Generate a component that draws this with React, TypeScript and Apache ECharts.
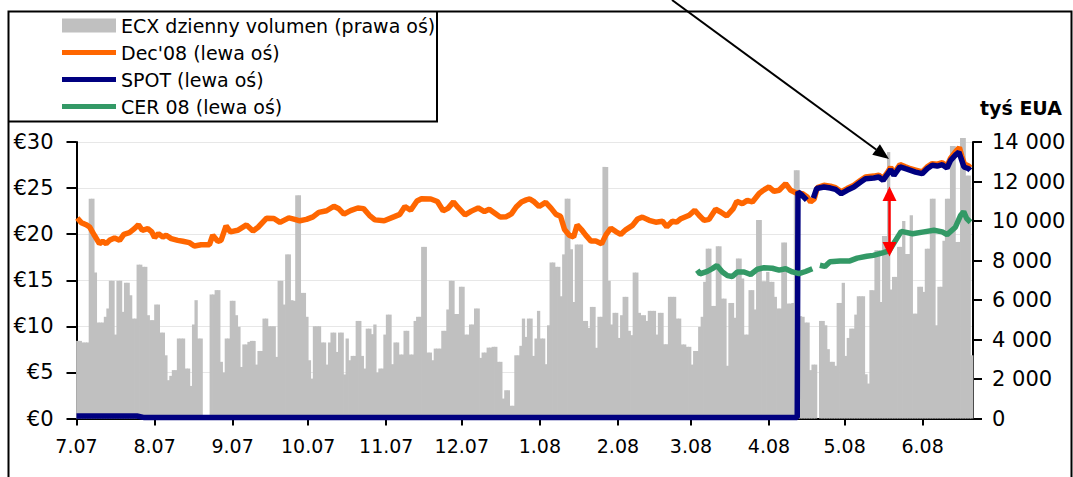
import React, { useEffect, useRef } from "react";
import * as echarts from "echarts";

const FONT = "'DejaVu Sans', Verdana, sans-serif";

// x = days since 1 July 2007
const monthTickDays = [0, 31, 62, 92, 123, 153, 184, 215, 244, 275, 305, 336];
const monthLabels = ["7.07", "8.07", "9.07", "10.07", "11.07", "12.07", "1.08", "2.08", "3.08", "4.08", "5.08", "6.08"];

// ECX daily volume (thousand EUA), one value per calendar day from day 0
const volumeTys = [
  3930, 3930, 3850, 3850, 3850, 11130, 11130, 7390, 4860, 4860, 4860, 5150, 5570, 6970, 6970, 4250, 6970, 6970, 5400, 6870,
  6870, 6240, 5060, 5060, 7790, 7790, 7680, 7680, 5230, 4980, 4980, 5770, 5770, 4350, 4350, 3200, 1940, 2160, 2450, 2450,
  4050, 4050, 4050, 2530, 2530, 1650, 4760, 5990, 4050, 4050, 0, 0, 0, 6280, 6280, 6500, 6500, 2870, 2330, 4050,
  4050, 5960, 5960, 5230, 4640, 2610, 3750, 3750, 3880, 3930, 3930, 2730, 3420, 3420, 5060, 5060, 4670, 4670, 4670, 3120,
  6970, 6970, 5770, 8310, 8310, 5990, 5960, 11300, 11300, 6360, 6360, 5150, 2950, 2020, 4670, 4670, 4670, 3850, 3850, 2730,
  3850, 4350, 4350, 3370, 4350, 4350, 2230, 4050, 2950, 3170, 3170, 4940, 4940, 3170, 2530, 4550, 4550, 4270, 4760, 2330,
  2530, 2530, 4250, 5260, 5260, 2750, 3850, 3850, 3240, 3240, 4440, 4440, 3240, 3240, 4940, 5150, 5150, 8690, 8690, 3340,
  3340, 2950, 3540, 3540, 3540, 4440, 4440, 5520, 6970, 6970, 5290, 5290, 6670, 6670, 4250, 4250, 4760, 4760, 5570, 5570,
  3070, 3340, 3340, 3590, 3590, 3630, 3630, 2870, 2870, 1010, 1430, 1430, 640, 640, 3200, 3200, 3680, 5060, 4130, 5060,
  5060, 3170, 4050, 5450, 4050, 4050, 2750, 4720, 7900, 7900, 7680, 7680, 6190, 8310, 11130, 11130, 8570, 5900, 8810, 8810,
  8810, 4940, 4940, 4590, 5650, 5650, 3580, 5150, 5150, 12740, 12740, 6970, 4760, 5350, 5350, 4080, 5230, 6160, 6160, 4440,
  4220, 7390, 7390, 5350, 5230, 5230, 4940, 5450, 5450, 5450, 4250, 5350, 5350, 3760, 3760, 6160, 6160, 6160, 5060, 5060,
  3750, 3750, 3630, 3630, 2730, 3420, 3420, 4640, 5150, 6920, 8600, 8600, 5700, 5700, 8720, 8720, 6070, 6070, 2670, 5850,
  5850, 5100, 8100, 8100, 7090, 4250, 4250, 6500, 6500, 5520, 10050, 10050, 6950, 6950, 7420, 6920, 6920, 6160, 5570, 5570,
  8910, 8910, 5820, 5820, 5850, 12570, 12570, 5180, 5150, 4860, 4860, 2450, 2730, 2730, 0, 4940, 4940, 4720, 3510, 2870,
  2870, 2670, 5850, 5850, 6870, 3170, 4080, 4550, 4550, 5260, 6190, 6190, 6190, 2240, 1770, 6500, 6500, 8520, 8520, 5900,
  9240, 9240, 13500, 6530, 7170, 7170, 8690, 8690, 10000, 8330, 8330, 10290, 5310, 5310, 6670, 6670, 6410, 8600, 8600, 11130,
  11130, 4720, 6670, 6670, 9000, 11130, 11130, 13800, 13800, 8940, 8940, 14200, 14200, 12300, 12300, 3200,
];

// Dec'08 futures price (EUR)
const dec08Days = [
  0.3, 1.9, 3.8, 5.2, 7.1, 9.1, 10.4, 11.8, 13.1, 15.1, 17.1, 18.8, 21.0, 23.0, 24.6, 26.1, 28.3, 29.9, 31.0, 32.5,
  34.3, 35.6, 37.6, 40.2, 42.2, 44.8, 46.8, 49.5, 52.8, 54.1, 56.1, 57.4, 59.4, 61.1, 64.0, 67.5, 70.1, 72.1, 75.5, 78.4,
  80.8, 84.3, 86.3, 88.7, 91.3, 93.9, 96.2, 99.3, 102.2, 104.2, 106.2, 108.8, 111.7, 114.0, 116.3, 118.5, 122.2, 126.2, 128.4, 130.4,
  132.7, 135.2, 137, 140.7, 143.3, 145.6, 147.5, 149.7, 151.5, 154.3, 156.8, 159.5, 162, 163.9, 166, 168.3, 170.7, 172.7, 174.6, 176.7,
  178.6, 180, 181.8, 183.7, 186.3, 188.5, 190.4, 192.2, 193.8, 195.6, 197.4, 198.8, 200.5, 202.2, 204.3, 206.2, 208.5, 210.3, 212.2, 214.3,
  216.1, 218.2, 220.8, 222.8, 224.7, 227.4, 230, 232.7, 234.4, 236.6, 238.3, 240, 243.3, 245.5, 247.2, 249.2, 251.2, 253.8, 255.8, 258.2,
  260.8, 262.2, 264.4, 266.4, 268.4, 271, 272.7, 275, 277, 279, 281.6, 283.6, 285.6, 288.2, 290.2, 291.5, 292.9, 294.2, 296.8, 299.4,
  301.4, 303.7, 306, 308.7, 311.4, 313.3, 316.6, 318.6, 320.3, 321.9, 323.3, 324.6, 327, 329.2, 331.2, 333.2, 335.8, 337.8, 339.8, 341.8,
  343.8, 345.7, 347.1, 349.1, 350.6, 351.5, 352.6, 354.3, 354.9,
];
const dec08Prices = [
  21.76, 21.25, 21.03, 20.78, 19.88, 18.97, 19.23, 18.97, 19.33, 19.59, 19.33, 19.98, 20.17, 20.6, 21.03, 20.42, 20.6, 20.24, 19.62, 20.06,
  19.7, 19.88, 19.52, 19.33, 19.23, 19.08, 18.72, 18.86, 18.86, 19.88, 19.23, 19.33, 20.9, 20.25, 20.42, 21.0, 20.35, 20.75, 21.73, 21.7,
  21.28, 21.77, 21.64, 21.45, 21.6, 21.88, 22.37, 22.54, 23.03, 22.75, 22.17, 22.55, 22.84, 22.77, 22.05, 21.55, 21.45, 21.9, 22.15, 23.0,
  22.6, 23.6, 23.85, 23.82, 23.55, 22.55, 22.8, 23.5, 22.9, 22.1, 22.5, 22.85, 22.45, 22.7, 22.3, 21.85, 21.9, 22.2, 22.95, 23.5,
  23.72, 23.82, 23.5, 23.0, 23.45, 22.8, 22.15, 21.95, 20.5, 19.9, 19.7, 21.0, 20.5, 19.9, 19.25, 19.25, 18.95, 19.95, 20.65, 20.25,
  19.98, 20.5, 20.95, 21.65, 21.85, 21.5, 21.3, 21.4, 20.8, 21.4, 21.3, 21.68, 22.05, 22.59, 22.05, 21.5, 21.61, 22.7, 22.41, 21.97,
  22.77, 23.56, 23.31, 23.67, 23.49, 24.39, 24.76, 25.12, 24.65, 24.76, 25.48, 24.76, 24.5, 24.4, 24.03, 23.5, 23.8, 25.05, 25.3, 25.2,
  25.05, 24.6, 24.95, 25.3, 25.85, 26.2, 26.3, 26.4, 26.05, 26.65, 27.25, 26.6, 27.55, 27.3, 27.1, 26.95, 26.75, 27.3, 27.65, 27.6,
  27.75, 27.4, 28.25, 28.95, 29.4, 28.5, 27.6, 27.4, 27.2,
];

// SPOT price (EUR); null = no quote
const spotDays = [
  0, 24, 27, 286.2, 286.5, 288.2, 290, 291, 292.6, 293.9, 296.8, 299.4, 301.4, 303.7, 306, 308.7, 311.4, 313.3, 316.6, 318.6,
  320.3, 321.9, 323.3, 324.6, 327, 329.2, 331.2, 333.2, 335.8, 337.8, 339.8, 341.8, 343.8, 345.7, 347.1, 349.1, 350.4, 351.3, 352.4, 354.3,
  354.9,
];
const spotPrices = [
  0.27, 0.27, 0.1, 0.1, 24.6, 24.2, 23.7, null, 23.9, 24.95, 25.12, 25.0, 24.86, 24.39, 24.76, 25.12, 25.66, 26.02, 26.09, 26.2,
  25.84, 26.45, 27.0, 26.38, 27.3, 27.1, 26.92, 26.74, 26.56, 27.1, 27.47, 27.39, 27.54, 27.18, 28.01, 28.6, 28.9, 28.19, 27.29, 27.1,
  26.92,
];

// CER 08 price (EUR)
const cerDays = [
  246.5, 247.6, 250.5, 252.5, 254.3, 256.5, 258.5, 260.4, 262.4, 265.1, 267.7, 270.4, 273, 276.3, 279, 281.6, 284.3, 286.9, 289.5, 292.2,
  293.5, 295.2, 297.2, 299.2, 303.2, 307.1, 310, 313.8, 316.4, 320.4, 322.7, 325.2, 327.5, 332, 336.5, 340.5, 343.8, 345.7, 349, 351,
  352.3, 353.5, 355,
];
const cerPrices = [
  16.1, 15.7, 15.97, 16.26, 16.6, 15.9, 15.5, 15.4, 15.9, 15.9, 15.62, 16.2, 16.35, 16.3, 16.1, 16.25, 15.9, 15.72, 15.95, 16.25,
  null, 16.63, 16.5, 17.0, 17.08, 17.1, 17.4, 17.6, 17.7, 18.0, 18.2, 19.3, 20.3, 20.05, 20.25, 20.42, 20.25, 19.95, 20.75, 22.0,
  22.45, 21.7, 21.3,
];

const seriesNames = ["ECX dzienny volumen (prawa oś)", "Dec'08 (lewa oś)", "SPOT (lewa oś)", "CER 08 (lewa oś)"];

const pairs = (xs: number[], ys: (number | null)[]) => xs.map((x, i) => [x, ys[i] === null ? "-" : ys[i]]);

function fmtThousands(v: number) {
  if (v < 1000) return String(v);
  const k = Math.floor(v / 1000);
  const r = v % 1000;
  return k + " " + String(r).padStart(3, "0");
}

const LINE_ICON = "path://M0,0H54V5H0Z";

export default function App() {
  const ref = useRef<HTMLDivElement>(null);
  useEffect(() => {
    if (!ref.current) return;
    const chart = echarts.init(ref.current, null, { renderer: "svg" });

    // arrow geometry
    const tip = [889, 159];
    const start = [672, 0];
    const dx = tip[0] - start[0];
    const dy = tip[1] - start[1];
    const len = Math.sqrt(dx * dx + dy * dy);
    const ux = dx / len, uy = dy / len;
    const hl = 16, hw = 6.5;
    const bx = tip[0] - hl * ux, by = tip[1] - hl * uy;
    const nx = -uy, ny = ux;

    const option: any = {
      animation: false,
      backgroundColor: "#ffffff",
      textStyle: { fontFamily: FONT },
      grid: { left: 76.5, right: 100, top: 142, bottom: 58.5, containLabel: false },
      legend: {
        orient: "vertical",
        left: 62,
        top: 16,
        padding: 0,
        itemWidth: 54,
        itemHeight: 14,
        itemGap: 8,
        symbolKeepAspect: true,
        selectedMode: false,
        textStyle: { fontSize: 19, fontFamily: FONT, color: "#000" },
        data: [
          { name: seriesNames[0], icon: "rect" },
          { name: seriesNames[1], icon: LINE_ICON },
          { name: seriesNames[2], icon: LINE_ICON },
          { name: seriesNames[3], icon: LINE_ICON },
        ],
      },
      xAxis: {
        type: "value",
        min: 0,
        max: 356,
        axisLine: { show: true, onZero: false, lineStyle: { color: "#000", width: 2 } },
        axisTick: { show: true, customValues: monthTickDays, length: 7, lineStyle: { color: "#000", width: 2 } },
        axisLabel: {
          customValues: monthTickDays,
          formatter: (v: number) => {
            const i = monthTickDays.indexOf(Math.round(v));
            return i >= 0 ? monthLabels[i] : "";
          },
          fontSize: 19,
          fontFamily: FONT,
          color: "#000",
          margin: 18,
        },
        splitLine: { show: false },
      },
      yAxis: [
        {
          type: "value",
          min: 0,
          max: 30,
          interval: 5,
          axisLine: { show: true, lineStyle: { color: "#000", width: 2 } },
          axisTick: { show: true, length: 10, lineStyle: { color: "#000", width: 2 } },
          axisLabel: { formatter: (v: number) => "€" + v, fontSize: 21, fontFamily: FONT, color: "#000", margin: 23 },
          splitLine: { show: true, lineStyle: { color: "#cfcfcf", width: 1, type: "dotted" } },
        },
        {
          type: "value",
          min: 0,
          max: 14000,
          interval: 2000,
          position: "right",
          axisLine: { show: true, lineStyle: { color: "#000", width: 2 } },
          axisTick: { show: true, length: 9, lineStyle: { color: "#000", width: 2 } },
          axisLabel: { formatter: (v: number) => fmtThousands(v), fontSize: 21, fontFamily: FONT, color: "#000", margin: 19 },
          splitLine: { show: false },
        },
      ],
      series: [
        {
          name: seriesNames[0],
          type: "bar",
          yAxisIndex: 1,
          barWidth: 3.3,
          clip: false,
          itemStyle: { color: "#C0C0C0" },
          data: volumeTys.map((v, i) => [i + 0.5, v]),
        },
        {
          name: seriesNames[1],
          type: "line",
          yAxisIndex: 0,
          symbol: "none",
          showSymbol: false,
          lineStyle: { color: "#FF6600", width: 5.5 },
          itemStyle: { color: "#FF6600" },
          data: pairs(dec08Days, dec08Prices),
        },
        {
          name: seriesNames[2],
          type: "line",
          yAxisIndex: 0,
          symbol: "none",
          showSymbol: false,
          connectNulls: false,
          lineStyle: { color: "#000080", width: 5.5 },
          itemStyle: { color: "#000080" },
          data: pairs(spotDays, spotPrices),
        },
        {
          name: seriesNames[3],
          type: "line",
          yAxisIndex: 0,
          symbol: "none",
          showSymbol: false,
          connectNulls: false,
          lineStyle: { color: "#339966", width: 5.5 },
          itemStyle: { color: "#339966" },
          data: pairs(cerDays, cerPrices),
        },
      ],
      graphic: [
        {
          type: "rect",
          silent: true,
          z: 100,
          shape: { x: 8.5, y: 11.5, width: 1063, height: 480 },
          style: { fill: "none", stroke: "#000", lineWidth: 2 },
        },
        {
          type: "polyline",
          silent: true,
          z: 100,
          shape: { points: [[8.5, 121.5], [437, 121.5], [437, 11.5]] },
          style: { fill: "none", stroke: "#000", lineWidth: 2 },
        },
        {
          type: "text",
          z: 100,
          left: 980,
          top: 98,
          style: { text: "tyś EUA", fontSize: 19, fontWeight: "bold", fontFamily: FONT, fill: "#000" },
        },
        {
          type: "line",
          silent: true,
          z: 100,
          shape: { x1: start[0], y1: start[1], x2: bx, y2: by },
          style: { stroke: "#000", lineWidth: 2 },
        },
        {
          type: "polygon",
          silent: true,
          z: 100,
          shape: { points: [[tip[0], tip[1]], [bx + hw * nx, by + hw * ny], [bx - hw * nx, by - hw * ny]] },
          style: { fill: "#000" },
        },
        {
          type: "line",
          silent: true,
          z: 100,
          shape: { x1: 889.5, y1: 199, x2: 889.5, y2: 244 },
          style: { stroke: "#FF0000", lineWidth: 2.5 },
        },
        {
          type: "polygon",
          silent: true,
          z: 100,
          shape: { points: [[889.5, 186.5], [882.5, 201], [896.5, 201]] },
          style: { fill: "#FF0000" },
        },
        {
          type: "polygon",
          silent: true,
          z: 100,
          shape: { points: [[889.5, 256.5], [882.5, 242], [896.5, 242]] },
          style: { fill: "#FF0000" },
        },
      ],
    };
    chart.setOption(option);
    return () => chart.dispose();
  }, []);

  return (
    <div
      ref={ref}
      style={{ position: "absolute", left: 0, top: 0, width: 1073, height: 477, background: "#fff" }}
    />
  );
}
